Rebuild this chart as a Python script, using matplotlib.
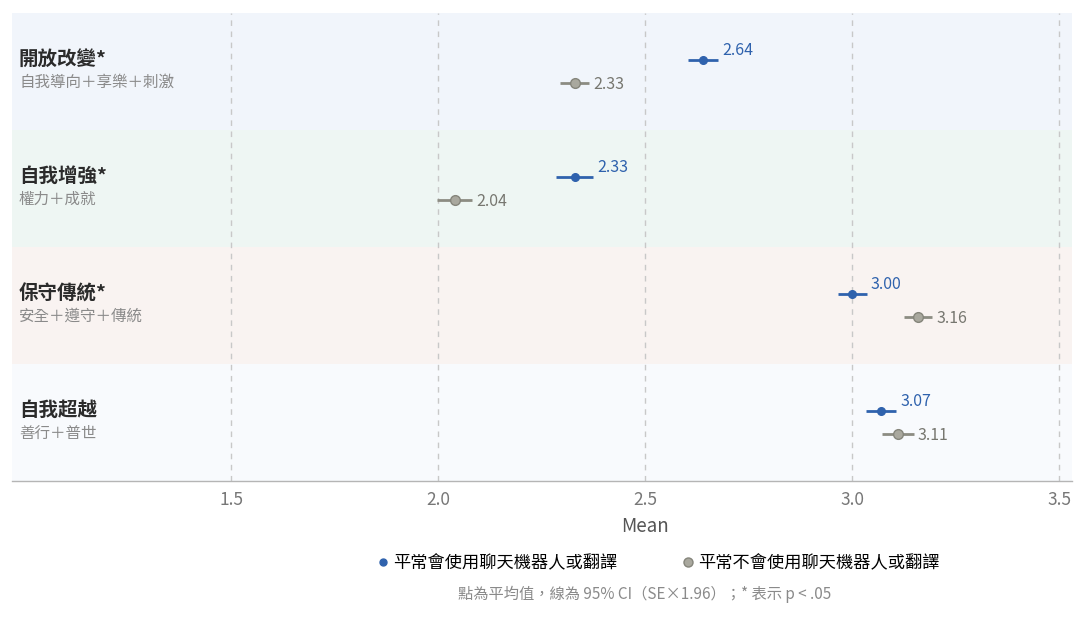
import matplotlib
matplotlib.use("Agg")
import matplotlib.pyplot as plt
from matplotlib.lines import Line2D
import matplotlib.transforms as mtransforms

plt.rcParams['font.family'] = ['Noto Sans CJK TC', 'DejaVu Sans']

categories = ["開放改變*", "自我增強*", "保守傳統*", "自我超越"]
subtitles = ["自我導向＋享樂＋刺激", "權力＋成就", "安全＋遵守＋傳統", "善行＋普世"]
users_mean = [2.64, 2.33, 3.00, 3.07]
users_ci = [0.036, 0.045, 0.035, 0.037]
nonusers_mean = [2.33, 2.04, 3.16, 3.11]
nonusers_ci = [0.035, 0.043, 0.034, 0.039]
series_names = ["平常會使用聊天機器人或翻譯", "平常不會使用聊天機器人或翻譯"]
xticks = [1.5, 2.0, 2.5, 3.0, 3.5]
band_colors = ["#f1f5fb", "#eef6f3", "#f9f3f1", "#f8fafd"]

blue = "#2f62ad"
gray_line = "#8c8c82"
gray_face = "#a9a89e"

W, H = 1092, 621
fig = plt.figure(figsize=(W/100, H/100), dpi=100)
ax = fig.add_axes([12/W, 140/H, 1060/W, 468/H])

ax.set_xlim(0.971, 3.531)
ax.set_ylim(len(categories) - 0.5, -0.5)

for i, c in enumerate(band_colors):
    ax.axhspan(i - 0.5, i + 0.5, color=c, zorder=0, lw=0)

for xt in xticks:
    ax.axvline(xt, color="#c8c8c8", lw=1, ls=(0, (4, 4)), zorder=1)

off = 0.1
for i in range(len(categories)):
    y1 = i - off
    m, e = users_mean[i], users_ci[i]
    ax.plot([m - e, m + e], [y1, y1], color=blue, lw=2, zorder=3, solid_capstyle='butt')
    ax.plot([m], [y1], 'o', color=blue, ms=5.5, zorder=4)
    ax.annotate(f"{m:.2f}", (m + e, y1), xytext=(3, 7), textcoords="offset points",
                color=blue, fontsize=11.5, ha="left", va="center")
    y2 = i + off
    m, e = nonusers_mean[i], nonusers_ci[i]
    ax.plot([m - e, m + e], [y2, y2], color=gray_line, lw=2, zorder=3, solid_capstyle='butt')
    ax.plot([m], [y2], 'o', mfc=gray_face, mec="#85857b", mew=1, ms=7, zorder=4)
    ax.annotate(f"{m:.2f}", (m + e, y2), xytext=(3, -1), textcoords="offset points",
                color="#777770", fontsize=11.5, ha="left", va="center")

trans = mtransforms.blended_transform_factory(ax.transAxes, ax.transData)
for i, (c, s) in enumerate(zip(categories, subtitles)):
    ax.text(7/1060, i - 0.10, c, transform=trans, fontsize=14, fontweight="bold",
            color="#2b2b2b", ha="left", va="center")
    ax.text(7/1060, i + 0.095, s, transform=trans, fontsize=11.2, color="#8a8a8a",
            ha="left", va="center")

ax.set_xticks(xticks)
ax.set_xticklabels([f"{x:.1f}" for x in xticks])
ax.tick_params(axis="x", length=0, pad=7, labelsize=12.5, labelcolor="#777777")
ax.set_yticks([])
for sp in ["top", "left", "right"]:
    ax.spines[sp].set_visible(False)
ax.spines["bottom"].set_color("#b5b5b5")
ax.spines["bottom"].set_linewidth(1)

fig.text(645/W, 1 - 526/H, "Mean", ha="center", va="center", fontsize=13.5, color="#555555")

handles = [Line2D([], [], ls="none", marker="o", color=blue, ms=5),
           Line2D([], [], ls="none", marker="o", mfc=gray_face, mec="#85857b", ms=6.5)]
fig.legend(handles, series_names, loc="center", bbox_to_anchor=(657/W, 1 - 563/H),
           ncol=2, frameon=False, fontsize=12.4, handletextpad=0.1, columnspacing=3.6,
           handlelength=1.0)
fig.text(645/W, 1 - 594/H, "點為平均值，線為 95% CI（SE×1.96）；* 表示 p < .05",
         ha="center", va="center", fontsize=11, color="#8a8a8a")

fig.savefig("out.png", dpi=100, facecolor="white")
